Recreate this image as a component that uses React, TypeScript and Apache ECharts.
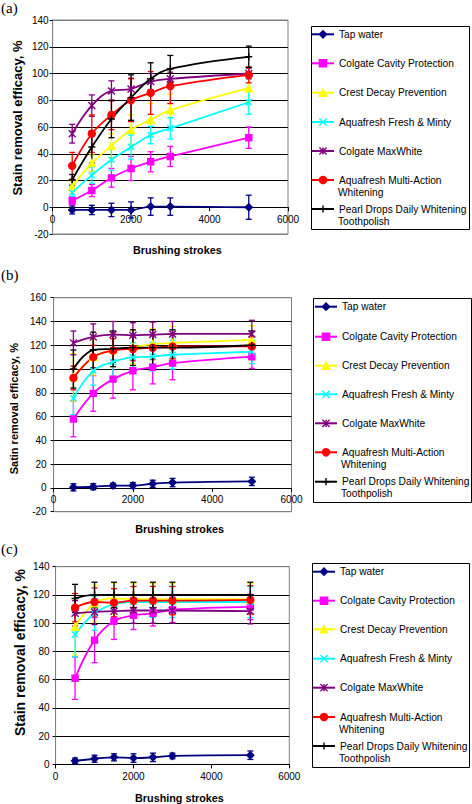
import React, { useEffect, useRef } from "react";
import * as echarts from "echarts";

// ---------- data ----------
const strokes = [500, 1000, 1500, 2000, 2500, 3000, 5000];
const xTicks = [0, 2000, 4000, 6000];

const seriesNames = [
  "Tap water",
  "Colgate Cavity Protection",
  "Crest Decay Prevention",
  "Aquafresh Fresh & Minty",
  "Colgate MaxWhite",
  "Aquafresh Multi-Action Whitening",
  "Pearl Drops Daily Whitening Toothpolish",
];
// legend text as printed (first line beside the key, optional wrapped second line)
const legendFirstLines = [
  "Tap water",
  "Colgate Cavity Protection",
  "Crest Decay Prevention",
  "Aquafresh Fresh & Minty",
  "Colgate MaxWhite",
  "Aquafresh Multi-Action",
  "Pearl Drops Daily Whitening",
];
const legendSecondLines = ["", "", "", "", "", "Whitening", "Toothpolish"];
const panelLabels = ["(a)", "(b)", "(c)"];
const xTitle = "Brushing strokes";
const yTitles = ["Stain removal efficacy, %", "Satin removal efficacy, %", "Stain removal efficacy, %"];

// (a)
const aTap = [-2, -2, -2, -2, 0.5, 0.5, 0];
const aTapErr = [3, 3.5, 5, 6, 6.5, 6.5, 9];
const aCavity = [5, 12.5, 22, 29, 34, 38, 52];
const aCavityErr = [3, 4.5, 7, 9, 7.5, 7.5, 8];
const aCrest = [15.5, 33, 46, 58, 65.5, 72.5, 89];
const aCrestErr = [4, 6, 9, 11, 12, 12, 10];
const aFresh = [11, 24, 35.5, 45, 54, 59, 78.5];
const aFreshErr = [3, 6, 8, 9, 6.5, 8, 9];
const aMaxWhite = [55, 76, 87, 88.5, 94, 96, 100];
const aMaxWhiteErr = [7, 8, 7.5, 8, 6, 5, 4];
const aMultiAction = [31, 55, 69, 80, 85.5, 90.5, 99];
const aMultiActionErr = [10, 14, 11, 16, 16, 13, 6];
const aPearl = [20.5, 45, 66, 82, 96, 103.5, 112.5];
const aPearlErr = [4, 12, 14, 17, 12, 10, 8];

// (b)
const bTap = [0.5, 1, 2, 2, 3.5, 4.5, 5.5];
const bTapErr = [3, 2.5, 2, 2.5, 3, 3.5, 3.5];
const bCavity = [58, 79.5, 91.5, 98.5, 101.5, 105, 110.5];
const bCavityErr = [15, 15, 16, 16, 14, 14, 10];
const bCrest = [93, 110, 116, 118.5, 121, 122, 124.5];
const bCrestErr = [20, 15, 14, 14, 13, 14, 12];
const bFresh = [75.5, 98.5, 106, 110, 110.5, 112, 114.5];
const bFreshErr = [14, 12, 12, 12, 12, 12, 10];
const bMaxWhite = [122, 127, 129, 128.5, 129, 129.5, 129.5];
const bMaxWhiteErr = [10, 11, 11, 10.5, 10.5, 10.5, 11.5];
const bMultiAction = [92.5, 110, 115.5, 117, 118, 119, 119];
const bMultiActionErr = [10, 10, 10, 10, 10, 10, 8];
const bPearl = [100, 116, 117, 118, 118, 118, 120];
const bPearlErr = [16, 15, 15, 15, 15, 15, 12];

// (c)
const cTap = [2.5, 4, 5, 4.5, 5, 6, 6.5];
const cTapErr = [2, 2.5, 2.5, 3, 3, 2, 3];
const cCavity = [61, 88, 101.5, 105.5, 107, 109.5, 111.5];
const cCavityErr = [15, 16, 13, 10, 9, 9, 9];
const cCrest = [97.5, 114, 117.5, 117, 117, 117, 117];
const cCrestErr = [20, 13, 11, 11, 11, 11, 11];
const cFresh = [92, 107, 113.5, 115, 115, 115, 115];
const cFreshErr = [16, 12, 11, 11, 11, 11, 11];
const cMaxWhite = [107, 108, 108.5, 109, 109, 109, 108.5];
const cMaxWhiteErr = [9, 9, 9, 9, 9, 9, 9];
const cMultiAction = [111, 115, 114.5, 116, 116, 116, 116.5];
const cMultiActionErr = [10, 10, 10, 10, 10, 10, 10];
const cPearl = [117.5, 120, 120, 120, 120, 120, 120];
const cPearlErr = [10, 9, 9, 9, 9, 9, 9];

const panelValues = [
  [aTap, aCavity, aCrest, aFresh, aMaxWhite, aMultiAction, aPearl],
  [bTap, bCavity, bCrest, bFresh, bMaxWhite, bMultiAction, bPearl],
  [cTap, cCavity, cCrest, cFresh, cMaxWhite, cMultiAction, cPearl],
];
const panelErrors = [
  [aTapErr, aCavityErr, aCrestErr, aFreshErr, aMaxWhiteErr, aMultiActionErr, aPearlErr],
  [bTapErr, bCavityErr, bCrestErr, bFreshErr, bMaxWhiteErr, bMultiActionErr, bPearlErr],
  [cTapErr, cCavityErr, cCrestErr, cFreshErr, cMaxWhiteErr, cMultiActionErr, cPearlErr],
];

// ---------- styles / layout ----------
const FONT = "'Liberation Sans', Arial, Helvetica, sans-serif";
const SERIF = "'Liberation Serif', 'Times New Roman', serif";
const colors = ["#000080", "#FF00FF", "#FFFF00", "#00FFFF", "#800080", "#FF0000", "#000000"];
const symbols = [
  "diamond",
  "rect",
  "triangle",
  "path://M0,0L10,10M10,0L0,10",
  "path://M0,0L10,10M10,0L0,10M5,0L5,10",
  "circle",
  "path://M5,0L5,10M0,5L10,5",
];
const symbolSizes = [7, 6, 7, 6, 7, 7, 7];
const LEGEND_ICON_W = 22;

const panels = [
  {
    grid: { left: 48, top: 20, width: 240, height: 214 },
    yMin: -20, yMax: 140, yFont: 13, yGap: 29, yPad: [0, 0, 0, 18], yLabelMargin: 4,
    xGap: 37.4,
    legendBox: { x: 311, y: 26, w: 158, h: 203 },
    legendLeft: 311, legendY: [34.3, 63.3, 92.7, 122, 151, 180, 209],
    labelY: 9,
  },
  {
    grid: { left: 50.5, top: 297.7, width: 241, height: 214 },
    yMin: -20, yMax: 160, yFont: 11, yGap: 29, yPad: [0, 8, 0, 0], yLabelMargin: 7,
    xGap: 35.6,
    legendBox: { x: 313, y: 298, w: 158, h: 204 },
    legendLeft: 314, legendY: [306.7, 336.7, 365.7, 394.3, 423.3, 452.3, 481.7],
    labelY: 276,
  },
  {
    grid: { left: 48.3, top: 566.7, width: 241, height: 198.3 },
    yMin: 0, yMax: 140, yFont: 14, yGap: 28.3, yPad: [0, 0, 0, 26], yLabelMargin: 6,
    xGap: 27.6,
    legendBox: { x: 312, y: 563, w: 157, h: 204 },
    legendLeft: 312, legendY: [571.7, 600.7, 629.3, 658.7, 687.7, 717, 746],
    labelY: 550,
  },
];

const errRender = (color: string) => (params: any, api: any) => {
  const x = api.value(0);
  const lo = api.coord([x, api.value(1)]);
  const hi = api.coord([x, api.value(2)]);
  const w = 3;
  const style = { stroke: color, lineWidth: 1.3 };
  return {
    type: "group",
    children: [
      { type: "line", shape: { x1: lo[0], y1: lo[1], x2: hi[0], y2: hi[1] }, style },
      { type: "line", shape: { x1: hi[0] - w, y1: hi[1], x2: hi[0] + w, y2: hi[1] }, style },
      { type: "line", shape: { x1: lo[0] - w, y1: lo[1], x2: lo[0] + w, y2: lo[1] }, style },
    ],
  };
};

function buildOption() {
  const grid: any[] = [];
  const xAxis: any[] = [];
  const yAxis: any[] = [];
  const series: any[] = [];
  const legend: any[] = [];
  const graphic: any[] = [];

  panels.forEach((p, pi) => {
    grid.push({ ...p.grid, show: true, borderColor: "#808080", borderWidth: 1, backgroundColor: "#fff" });
    // x axis crosses the value axis at 0 (Excel style): shift it up from the bottom edge
    const zeroOffset = -p.grid.height * (0 - p.yMin) / (p.yMax - p.yMin);
    xAxis.push({
      type: "value", gridIndex: pi, min: xTicks[0], max: xTicks[xTicks.length - 1], interval: 2000,
      position: "bottom", offset: zeroOffset,
      name: xTitle, nameLocation: "middle", nameGap: p.xGap,
      nameTextStyle: { fontFamily: FONT, fontWeight: "bold", fontSize: 10.8, color: "#000", padding: [0, 0, 0, 14] },
      axisLine: { show: true, onZero: false, lineStyle: { color: "#000", width: 1 } },
      axisTick: { show: true, length: 4, lineStyle: { color: "#000" } },
      axisLabel: { fontFamily: FONT, fontSize: 10, color: "#000", margin: 7, formatter: (v: number) => String(v) },
      splitLine: { show: false },
    });
    const nLines = (p.yMax - p.yMin) / 20 + 1;
    const lineColors = Array.from({ length: nLines }, (_, k) => (k === 0 || k === nLines - 1 ? "#808080" : "#000"));
    yAxis.push({
      type: "value", gridIndex: pi, min: p.yMin, max: p.yMax, interval: 20,
      name: yTitles[pi], nameLocation: "middle", nameGap: p.yGap,
      nameTextStyle: { fontFamily: FONT, fontWeight: "bold", fontSize: p.yFont, color: "#000", padding: p.yPad },
      axisLine: { show: true, onZero: false, lineStyle: { color: "#808080", width: 1 } },
      axisTick: { show: true, length: 3, lineStyle: { color: "#000" } },
      axisLabel: { fontFamily: FONT, fontSize: 10, color: "#000", margin: p.yLabelMargin, formatter: (v: number) => String(v) },
      splitLine: { show: true, lineStyle: { color: lineColors, width: 1 } },
    });

    seriesNames.forEach((name, i) => {
      const vals = panelValues[pi][i];
      const errs = panelErrors[pi][i];
      series.push({
        type: "line", name, xAxisIndex: pi, yAxisIndex: pi,
        data: strokes.map((x, j) => [x, vals[j]]),
        smooth: 0.4,
        symbol: symbols[i], symbolSize: symbolSizes[i],
        lineStyle: { color: colors[i], width: 1.8 },
        itemStyle: { color: colors[i], borderColor: colors[i], borderWidth: 1.4 },
        z: 3,
      });
      series.push({
        type: "custom", xAxisIndex: pi, yAxisIndex: pi,
        data: strokes.map((x, j) => [x, vals[j] - errs[j], vals[j] + errs[j]]),
        encode: { x: 0, y: [1, 2] },
        renderItem: errRender(colors[i]),
        z: 3,
        silent: true,
      });
    });

    seriesNames.forEach((name, i) => {
      legend.push({
        data: [name],
        left: p.legendLeft,
        top: p.legendY[i] - 6,
        orient: "vertical", padding: 0, itemWidth: LEGEND_ICON_W, itemHeight: 9, selectedMode: false,
        formatter: () => legendFirstLines[i],
        itemStyle: { borderWidth: 1.4 },
        textStyle: { fontFamily: FONT, fontSize: 10.2, color: "#000", lineHeight: 12 },
      });
      if (legendSecondLines[i]) {
        graphic.push({
          type: "text",
          x: p.legendLeft + LEGEND_ICON_W + 5,
          y: p.legendY[i] + 12,
          style: {
            text: legendSecondLines[i], font: `10.2px ${FONT}`, fill: "#000",
            align: "left", verticalAlign: "middle", textAlign: "left", textVerticalAlign: "middle",
          },
        });
      }
    });

    graphic.push({
      type: "rect",
      shape: { x: p.legendBox.x + 0.5, y: p.legendBox.y + 0.5, width: p.legendBox.w, height: p.legendBox.h },
      style: { fill: "#fff", stroke: "#000", lineWidth: 1 },
      z: -1,
    });
    graphic.push({
      type: "text", left: 1, top: p.labelY - 9,
      style: { text: panelLabels[pi], font: `15px ${SERIF}`, fill: "#000" },
    });
  });

  return {
    animation: false,
    backgroundColor: "#fff",
    textStyle: { fontFamily: FONT },
    grid, xAxis, yAxis, series, legend, graphic,
  };
}

export default function App() {
  const ref = useRef<HTMLDivElement>(null);
  useEffect(() => {
    if (!ref.current) return;
    const chart = echarts.init(ref.current, undefined, { renderer: "svg" });
    chart.setOption(buildOption() as any);
    return () => chart.dispose();
  }, []);
  return <div ref={ref} style={{ position: "fixed", left: 0, top: 0, width: 472, height: 804 }} />;
}
